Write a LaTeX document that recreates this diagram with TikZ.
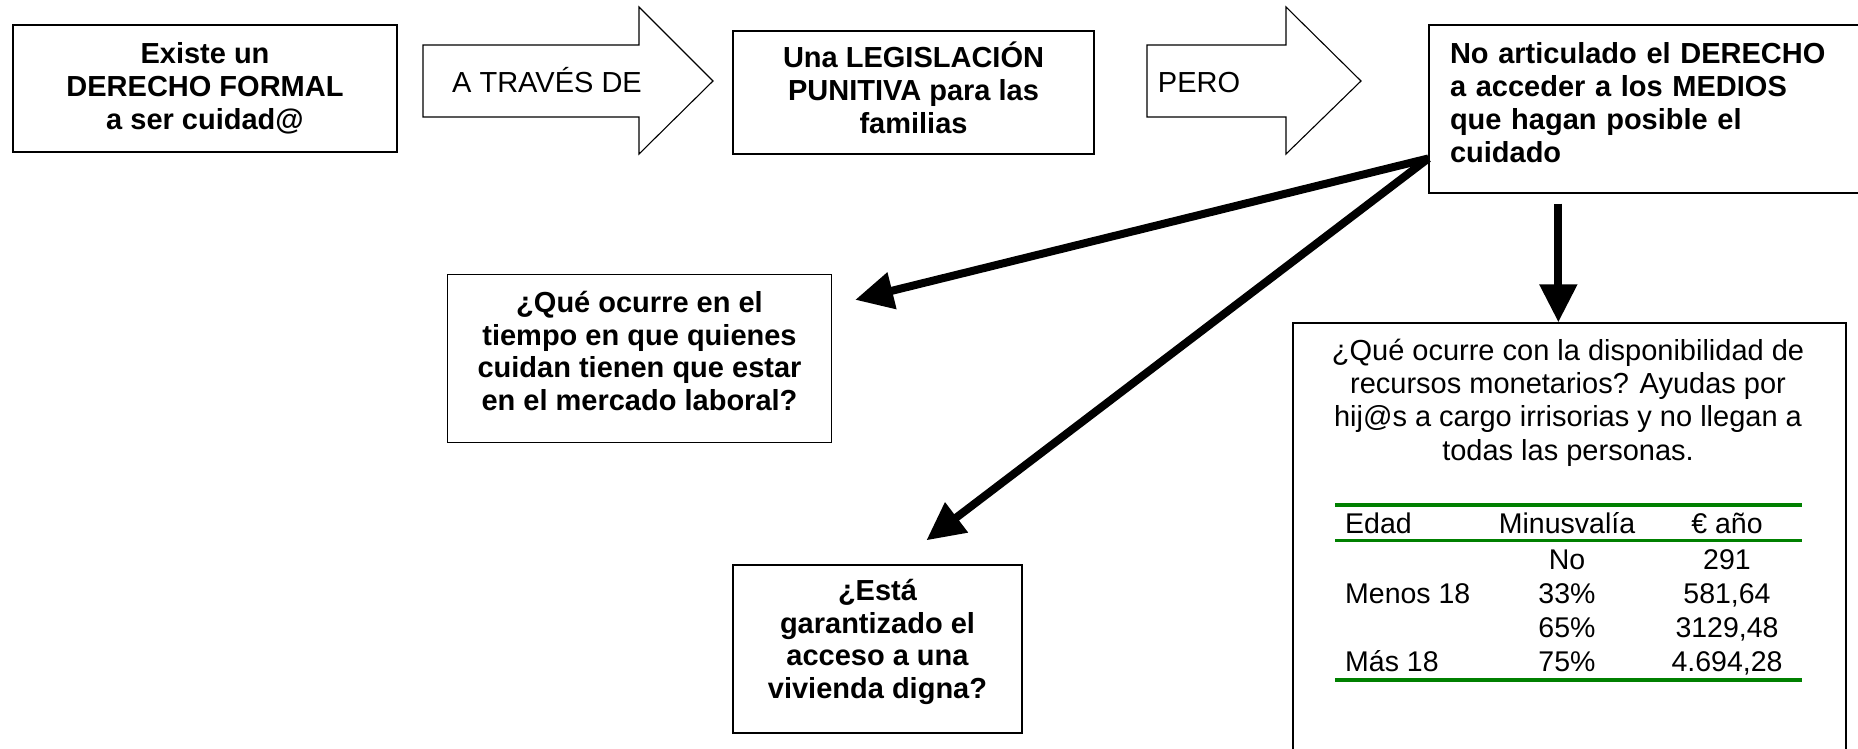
\documentclass[tikz,border=0pt]{standalone}
\usepackage{fontspec}
\setmainfont{Liberation Sans}
\usetikzlibrary{arrows.meta,calc}
\definecolor{tabgreen}{RGB}{0,128,0}
\newcommand{\lowstrut}[1]{\rule[-#1]{0pt}{0pt}}
\tikzset{
  box/.style={draw=black, line width=1.3pt, inner sep=0pt, align=center},
  bigbold/.style={font=\bfseries\fontsize{29}{33}\selectfont},
  qbold/.style={font=\bfseries\fontsize{29}{32.5}\selectfont},
  outlinearrow/.style={draw=black, line width=1.1pt, fill=white, line join=miter},
  arrowlabel/.style={font=\fontsize{29}{33}\selectfont, anchor=base, inner sep=0pt},
  thickarrow/.style={line width=8pt, -{Triangle[length=38pt,width=36pt]}},
  plaintext/.style={font=\fontsize{29}{33.3}\selectfont, inner sep=0pt},
  cell/.style={font=\fontsize{28.5}{33}\selectfont, inner sep=0pt},
  greenrule/.style={draw=tabgreen},
}
\begin{document}
\begin{tikzpicture}[x=1pt,y=-1pt]
\useasboundingbox (0,0) rectangle (1858,749);
\fill[white] (0,0) rectangle (1858,749);

% top row boxes
\node[box, bigbold, minimum width=384, minimum height=127] (b1) at (205,88.5)
  {Existe un\\DERECHO FORMAL\\a ser cuidad@};
\node[box, bigbold, minimum width=361, minimum height=123] (b2) at (913.5,92.5)
  {Una LEGISLACIÓN\\PUNITIVA para las\\familias\lowstrut{10pt}};
\node[box, font=\bfseries\fontsize{29}{33.3}\selectfont, align=left, text width=404,
      inner xsep=21, inner ysep=0, minimum height=168] (b3) at (1652,109)
  {No articulado el DERECHO\\a acceder a los MEDIOS\\que hagan posible el\\cuidado\lowstrut{13pt}};

% outline block arrows
\draw[outlinearrow] (423,45) -- (639,45) -- (639,7) -- (713,81) -- (639,154) -- (639,117) -- (423,117) -- cycle;
\node[arrowlabel] (l1) at (547,93) {A TRAVÉS DE};
\draw[outlinearrow] (1147,45) -- (1286,45) -- (1286,7) -- (1361,81) -- (1286,154) -- (1286,117) -- (1147,117) -- cycle;
\node[arrowlabel] (l2) at (1199,93) {PERO};

% question boxes
\node[box, qbold, minimum width=384, minimum height=168] (q1) at (639.5,358.5)
  {¿Qué ocurre en el\\tiempo en que quienes\\cuidan tienen que estar\\en el mercado laboral?\lowstrut{15pt}};
\node[box, qbold, minimum width=289, minimum height=168] (q2) at (877.5,649)
  {¿Está\\garantizado el\\acceso a una\\vivienda digna?\lowstrut{20pt}};
\node[box, minimum width=553, minimum height=437] (q3) at (1569.5,541.5) {};

\node[plaintext, align=center, anchor=base] (q3text) at (1568,460)
  {¿Qué ocurre con la disponibilidad de\\recursos monetarios? Ayudas por\\hij@s a cargo irrisorias y no llegan a\\todas las personas.};

% thick connectors
\coordinate (src) at ($(b3.south west)!0.208!(b3.north west)$);
\draw[thickarrow] (src) -- ($(q1.north east)+(23,26)$);
\draw[thickarrow] (src) -- ($(q2.north west)+(194,-24)$);
\draw[thickarrow] ($(b3.south west)+(130,10)$) -- ($(q3.north west)+(266,0)$);

% table
\draw[greenrule, line width=4pt] (1335,505) -- (1802,505);
\draw[greenrule, line width=3pt] (1335,540.5) -- (1802,540.5);
\draw[greenrule, line width=4pt] (1335,680) -- (1802,680);

\node[cell, anchor=base west] (h1) at (1345,533) {Edad};
\node[cell, anchor=base] (h2) at (1567,533) {Minusvalía};
\node[cell, anchor=base] (h3) at (1727,533) {€ año};

\node[cell, anchor=base] (r1b) at (1567,569) {No};
\node[cell, anchor=base] (r1c) at (1727,569) {291};
\node[cell, anchor=base west] (r2a) at (1345,603) {Menos 18};
\node[cell, anchor=base] (r2b) at (1567,603) {33\%};
\node[cell, anchor=base] (r2c) at (1727,603) {581,64};
\node[cell, anchor=base] (r3b) at (1567,637) {65\%};
\node[cell, anchor=base] (r3c) at (1727,637) {3129,48};
\node[cell, anchor=base west] (r4a) at (1345,671) {Más 18};
\node[cell, anchor=base] (r4b) at (1567,671) {75\%};
\node[cell, anchor=base] (r4c) at (1727,671) {4.694,28};
\end{tikzpicture}
\end{document}
